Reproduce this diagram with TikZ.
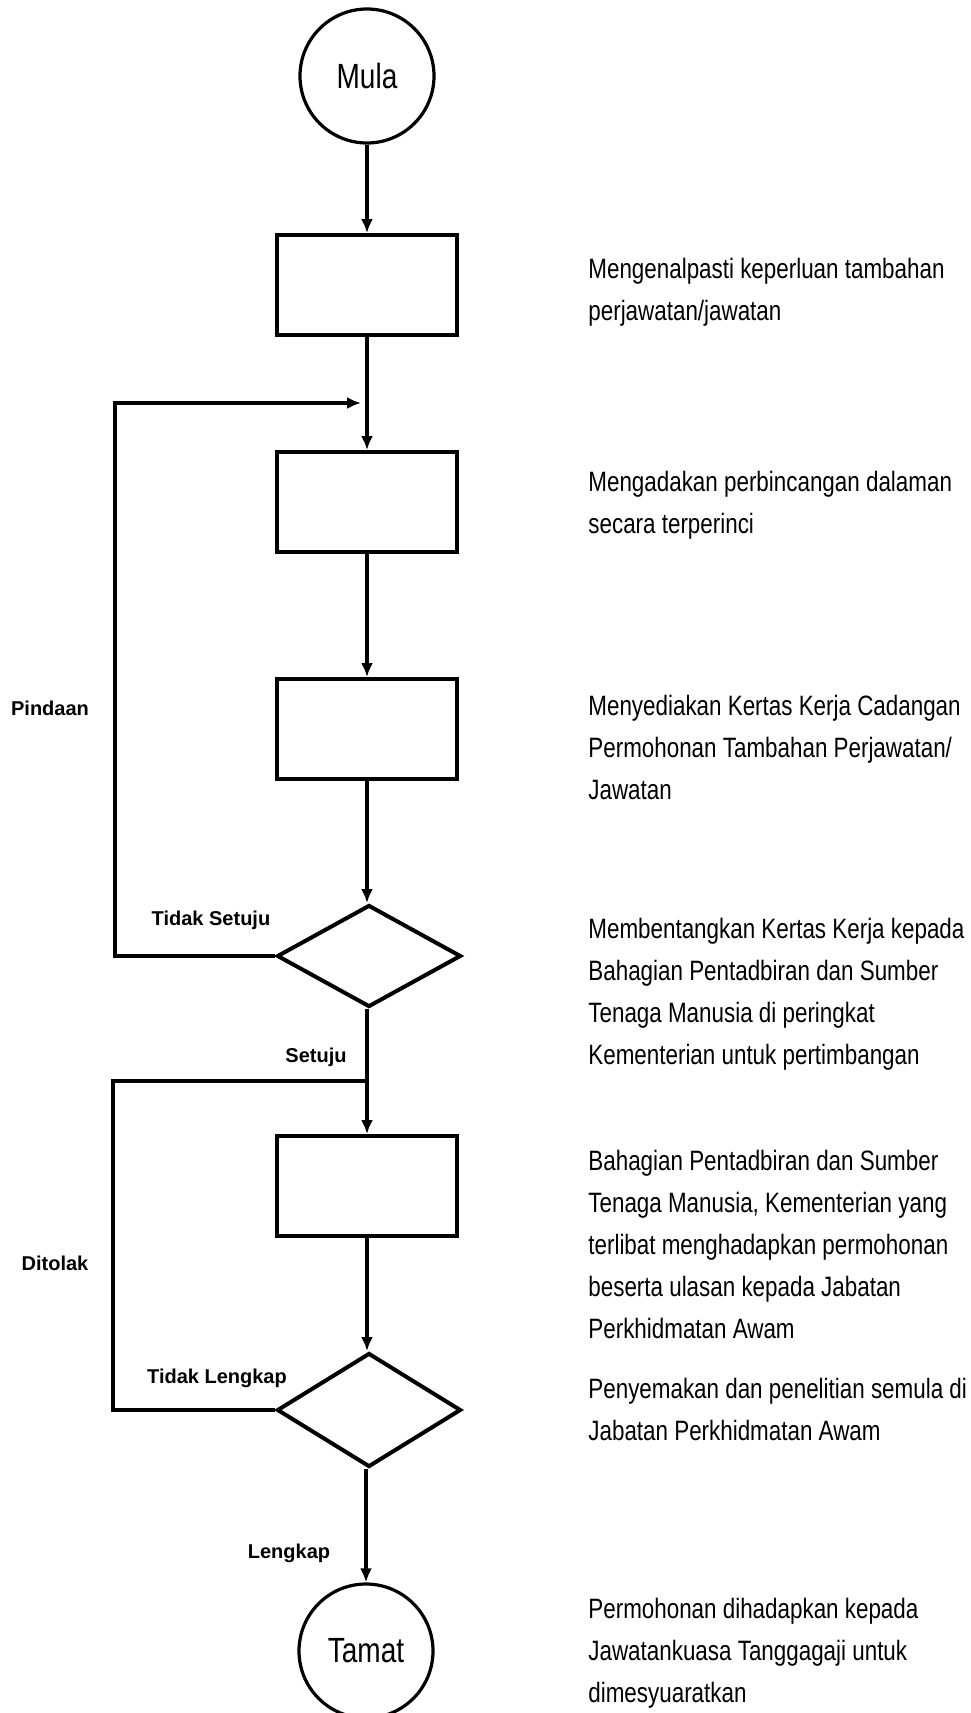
\documentclass[tikz,border=0pt]{standalone}
\usepackage{fontspec}
\setmainfont{Liberation Sans}
\newfontfamily\narrowfont{Liberation Sans}[FakeStretch=0.8]
\usetikzlibrary{shapes.geometric, arrows.meta, calc}

\begin{document}
\begin{tikzpicture}[x=0.5pt, y=0.5pt]
\useasboundingbox (0,0) rectangle (970,-1713);
\fill[white] (0,0) rectangle (970,-1713);

\begin{scope}[every node/.style={draw, line width=2pt, inner sep=0pt}]
    \node(mula)[circle, minimum size=67pt, line width=1.6pt, font=\narrowfont\fontsize{17.5pt}{20pt}\selectfont] at (367,-76) {Mula};
    \node(box1)[rectangle, minimum width=90pt, minimum height=50pt] at (367,-285) {};
    \node(box2)[rectangle, minimum width=90pt, minimum height=50pt] at (367,-502) {};
    \node(box3)[rectangle, minimum width=90pt, minimum height=50pt] at (367,-729) {};
    \node(d1)[diamond, minimum width=92pt, minimum height=51pt] at (369,-956) {};
    \node(box4)[rectangle, minimum width=90pt, minimum height=50pt] at (367,-1186) {};
    \node(d2)[diamond, minimum width=92pt, minimum height=57pt] at (369,-1410) {};
    \node(tamat)[circle, minimum size=67pt, line width=1.6pt, font=\narrowfont\fontsize{17.5pt}{20pt}\selectfont] at (366,-1651) {Tamat};
\end{scope}

\begin{scope}[every node/.style={anchor=north west, align=left, inner sep=0pt, font=\narrowfont\fontsize{14pt}{21pt}\selectfont}]
    \node(txt1) at (588,-258) {Mengenalpasti keperluan tambahan\\perjawatan/jawatan};
    \node(txt2) at (588,-471) {Mengadakan perbincangan dalaman\\secara terperinci};
    \node(txt3) at (588,-695) {Menyediakan Kertas Kerja Cadangan\\Permohonan Tambahan Perjawatan/\\Jawatan};
    \node(txt4) at (588,-918) {Membentangkan Kertas Kerja kepada\\Bahagian Pentadbiran dan Sumber\\Tenaga Manusia di peringkat\\Kementerian untuk pertimbangan};
    \node(txt5) at (588,-1150) {Bahagian Pentadbiran dan Sumber\\Tenaga Manusia, Kementerian yang\\terlibat menghadapkan permohonan\\beserta ulasan kepada Jabatan\\Perkhidmatan Awam};
    \node(txt6) at (588,-1378) {Penyemakan dan penelitian semula di\\Jabatan Perkhidmatan Awam};
    \node(txt7) at (588,-1598) {Permohonan dihadapkan kepada\\Jawatankuasa Tanggagaji untuk\\dimesyuaratkan};
\end{scope}

\begin{scope}[every node/.style={inner sep=0pt, font=\bfseries\fontsize{10pt}{12pt}\selectfont}]
    \node(pindaan) at (50,-708) {Pindaan};
    \node(tidaksetuju) at (211,-920) {Tidak Setuju};
    \node(setuju) at (316,-1057) {Setuju};
    \node(ditolak) at (55,-1263) {Ditolak};
    \node(tidaklengkap) at (217,-1378) {Tidak Lengkap};
    \node(lengkap) at (289,-1553) {Lengkap};
\end{scope}

\coordinate (pindaanCorner) at (115,-403);
\coordinate (pindaanEnd) at (361,-403);
\coordinate (ditolakCorner) at (113,-1081);
\coordinate (ditolakEnd) at (367,-1081);

\begin{scope}[>={Latex[length=7pt,width=6pt]}, line width=2pt]
\draw[->] (mula) -- (box1);
\draw[->] (box1) -- (box2);
\draw[->] (box2) -- (box3);
\draw[->] (box3) -- (d1.north -| box3);
\draw[->] (d1.south -| box4) -- (box4);
\draw[->] (box4) -- (d2.north -| box4);
\draw[->] (d2.south -| tamat) -- (tamat);

\draw[->] (d1.west) -| (pindaanCorner) -- (pindaanEnd);
\draw (d2.west) -| (ditolakCorner) -- (ditolakEnd);
\end{scope}
\end{tikzpicture}
\end{document}
